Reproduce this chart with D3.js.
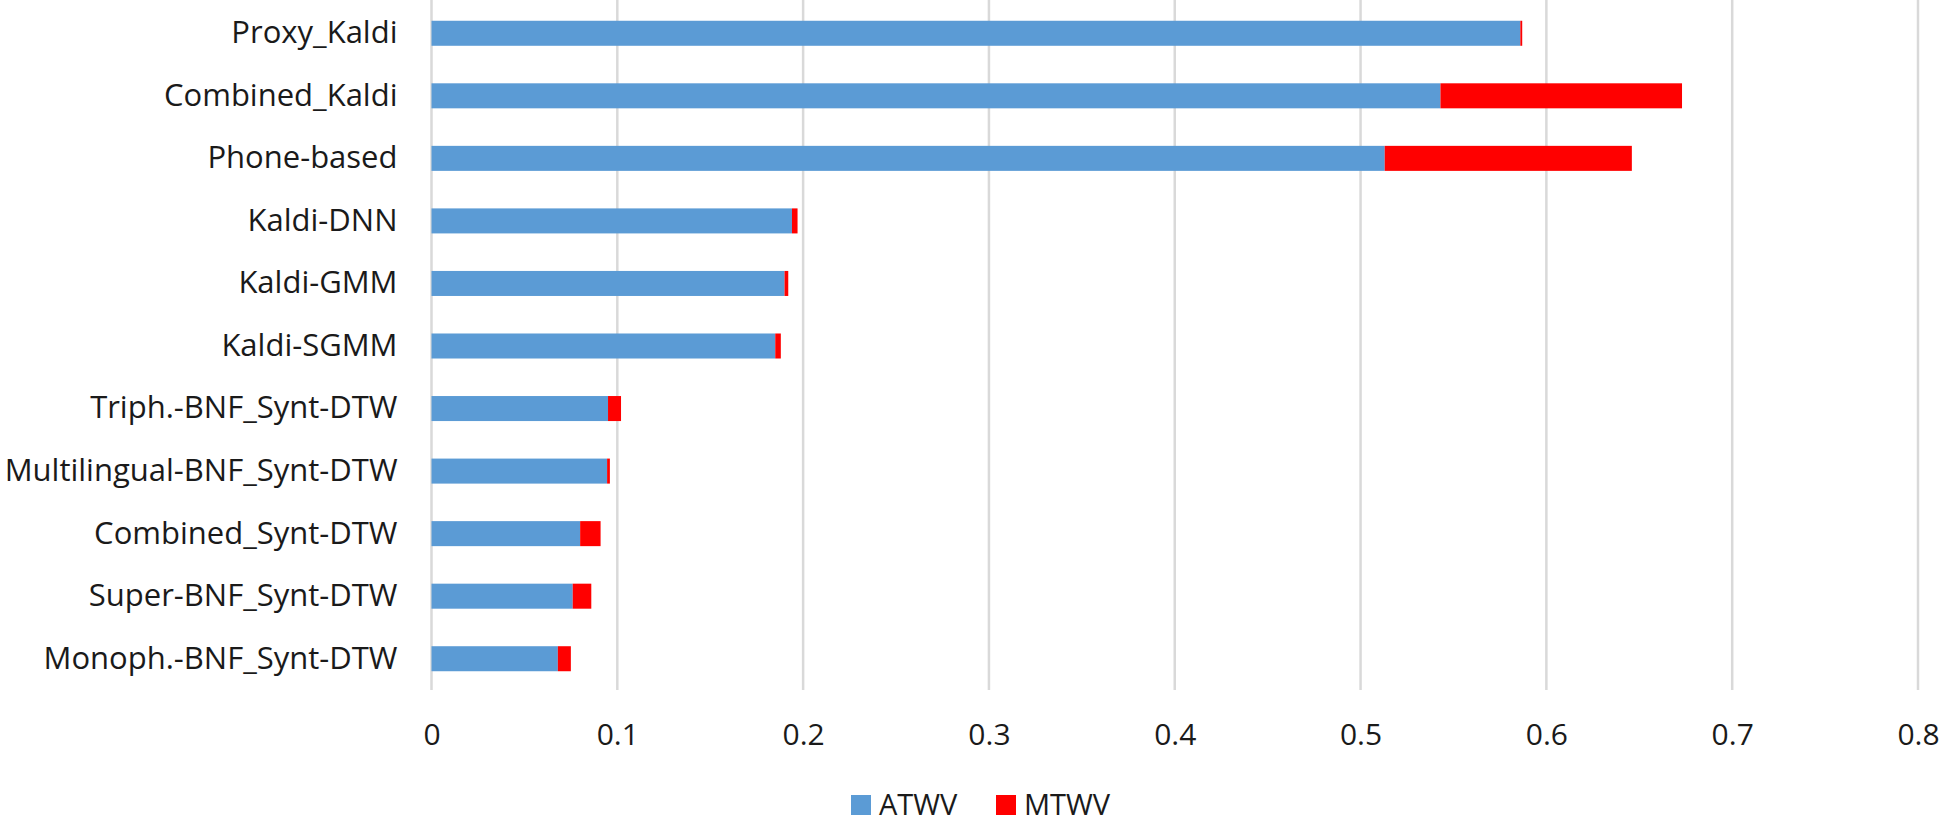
<!DOCTYPE html>
<html>
<head>
<meta charset="utf-8">
<script src="https://cdn.jsdelivr.net/npm/d3@7"></script>
<style>
  html, body { margin: 0; padding: 0; background: #ffffff; }
  svg { display: block; font-family: "Open Sans", sans-serif; }
</style>
</head>
<body>
<svg id="chart" width="1943" height="825"></svg>
<script>
const categories = [
  "Proxy_Kaldi", "Combined_Kaldi", "Phone-based", "Kaldi-DNN", "Kaldi-GMM",
  "Kaldi-SGMM", "Triph.-BNF_Synt-DTW", "Multilingual-BNF_Synt-DTW",
  "Combined_Synt-DTW", "Super-BNF_Synt-DTW", "Monoph.-BNF_Synt-DTW"
];
const atwv = [0.586, 0.543, 0.513, 0.194, 0.190, 0.185, 0.095, 0.0945, 0.080, 0.076, 0.068];
const mtwv = [0.587, 0.673, 0.646, 0.197, 0.192, 0.188, 0.102, 0.096, 0.091, 0.086, 0.075];
const xTicks = [0, 0.1, 0.2, 0.3, 0.4, 0.5, 0.6, 0.7, 0.8];
const seriesNames = ["ATWV", "MTWV"];
const colors = ["#5B9BD5", "#FF0000"];

const svg = d3.select("#chart");
const x = d3.scaleLinear().domain([0, 0.8]).range([431.5, 1918]);
const y = d3.scaleBand().domain(categories).range([2, 690]).paddingInner(0.6).paddingOuter(0.3);

// gridlines
svg.append("g").selectAll("line").data(xTicks).join("line")
  .attr("x1", d => x(d)).attr("x2", d => x(d))
  .attr("y1", 0).attr("y2", 690)
  .attr("stroke", "#d9d9d9").attr("stroke-width", 2.5);

const rows = categories.map((c, i) => ({ c, a: atwv[i], m: mtwv[i] }));

// ATWV bars
svg.append("g").selectAll("rect").data(rows).join("rect")
  .attr("x", x(0)).attr("y", d => y(d.c))
  .attr("width", d => x(d.a) - x(0)).attr("height", y.bandwidth())
  .attr("fill", colors[0]);
// MTWV bars (gain over ATWV)
svg.append("g").selectAll("rect").data(rows).join("rect")
  .attr("x", d => x(d.a)).attr("y", d => y(d.c))
  .attr("width", d => Math.max(0, x(d.m) - x(d.a))).attr("height", y.bandwidth())
  .attr("fill", colors[1]);

// y axis labels
const yAxis = d3.axisLeft(y).tickSize(0).tickPadding(34);
const gy = svg.append("g").attr("transform", `translate(${x(0)},0)`).call(yAxis);
gy.select(".domain").remove();
gy.selectAll("text").attr("font-size", 31).attr("fill", "#1a1a1a").attr("font-family", "Open Sans, sans-serif");

// x axis labels
const xAxis = d3.axisBottom(x).tickValues(xTicks).tickSize(0).tickPadding(0)
  .tickFormat(d => d === 0 ? "0" : d3.format(".1f")(d));
const gx = svg.append("g").attr("transform", "translate(0,724)").call(xAxis);
gx.select(".domain").remove();
gx.selectAll("text").attr("font-size", 30).attr("fill", "#1a1a1a").attr("font-family", "Open Sans, sans-serif");

// legend
const legX = [851, 996];
const leg = svg.append("g");
seriesNames.forEach((n, i) => {
  leg.append("rect").attr("x", legX[i]).attr("y", 795).attr("width", 20).attr("height", 20).attr("fill", colors[i]);
  leg.append("text").attr("x", legX[i] + 28).attr("y", 815)
    .attr("font-size", 29).attr("fill", "#1a1a1a").text(n);
});
</script>
</body>
</html>
